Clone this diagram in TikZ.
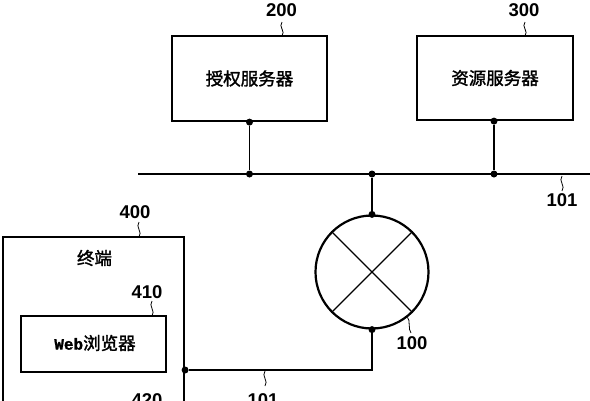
\documentclass[tikz,border=0pt]{standalone}
\usepackage{fontspec}
\setmainfont{Liberation Sans}
\newfontfamily\cjk[FakeBold=1.6]{Noto Sans CJK SC}
\newfontfamily\monofnt[FakeBold=1.2]{Liberation Mono}
\newcommand{\sq}[3]{\draw[leader] (#1,#2) .. controls +(-4,5) and +(4,-5) .. (#1,#3);}
\begin{document}
\begin{tikzpicture}[x=1pt,y=-1pt,
 box/.style={draw, line width=2.2pt, inner sep=0pt},
 wire/.style={line width=1.3pt},
 dot/.style={circle, fill, inner sep=0pt, minimum size=7pt},
 num/.style={font=\bfseries\fontsize{18.5}{18}\selectfont, inner sep=0pt},
 lbl/.style={font=\cjk\fontsize{17.5}{18}\selectfont, inner sep=0pt},
 leader/.style={line width=0.8pt}]
\useasboundingbox (0,0) rectangle (590,400);
\clip (0,0) rectangle (590,400);
% servers
\node[box, minimum width=155pt, minimum height=85pt, lbl] (as) at (249.5,78.5) {授权服务器};
\node[box, minimum width=156pt, minimum height=84pt, lbl] (rs) at (495,78) {资源服务器};
% bus
\coordinate (busL) at (138,174);
\coordinate (busR) at (590,174);
\node[dot] (d1) at (249.5,174) {};
\node[dot] (d2) at (372,174) {};
\node[dot] (d3) at (494,174) {};
\draw[wire] (busL) -- (busR);
\node[dot] (as-d) at (as.south) {};
\node[dot] (rs-d) at (rs.south -| d3) {};
\draw[wire] (as-d) -- (d1);
\draw[wire] (rs-d) -- (d3);
% switch
\node[draw, circle, line width=2.2pt, minimum size=113pt, inner sep=0pt] (sw) at (372,272) {};
\draw[wire] (sw.45) -- (sw.225);
\draw[wire] (sw.135) -- (sw.315);
\node[dot] (sw-t) at (sw.north) {};
\node[dot] (sw-b) at (sw.south) {};
\draw[wire] (d2) -- (sw-t);
% terminal
\node[box, minimum width=181pt, minimum height=223pt] (term) at (93.5,348.5) {};
\node[lbl] (termlbl) at (94.5,258) {终端};
\node[box, minimum width=145pt, minimum height=56pt] (web) at (93.5,344) {};
\node[lbl] (weblbl) at (95,343) {{\monofnt\bfseries\fontsize{16}{16}\selectfont Web}浏览器};
\node[dot] (term-d) at (term.east |- 0,370) {};
\coordinate (corner) at (372,370);
\draw[wire] (sw-b) -- (corner) -- (term-d);
% reference numbers
\node[num] (n200) at (281.5,10) {200};
\sq{282}{22}{36}
\node[num] (n300) at (524,10) {300};
\sq{525}{22}{36}
\node[num] (n101a) at (562,200) {101};
\sq{562}{176}{191}
\node[num] (n400) at (135,212) {400};
\sq{139}{222}{237}
\node[num] (n410) at (147,292) {410};
\sq{152}{301}{316}
\node[num] (n420) at (147,400) {420};
\node[num] (n100) at (412,343) {100};
\draw[leader] (sw.-52) .. controls +(3,2) and +(-3,-3) .. (411,333);
\node[num] (n101b) at (263,400) {101};
\sq{265}{371}{386}
\end{tikzpicture}
\end{document}
